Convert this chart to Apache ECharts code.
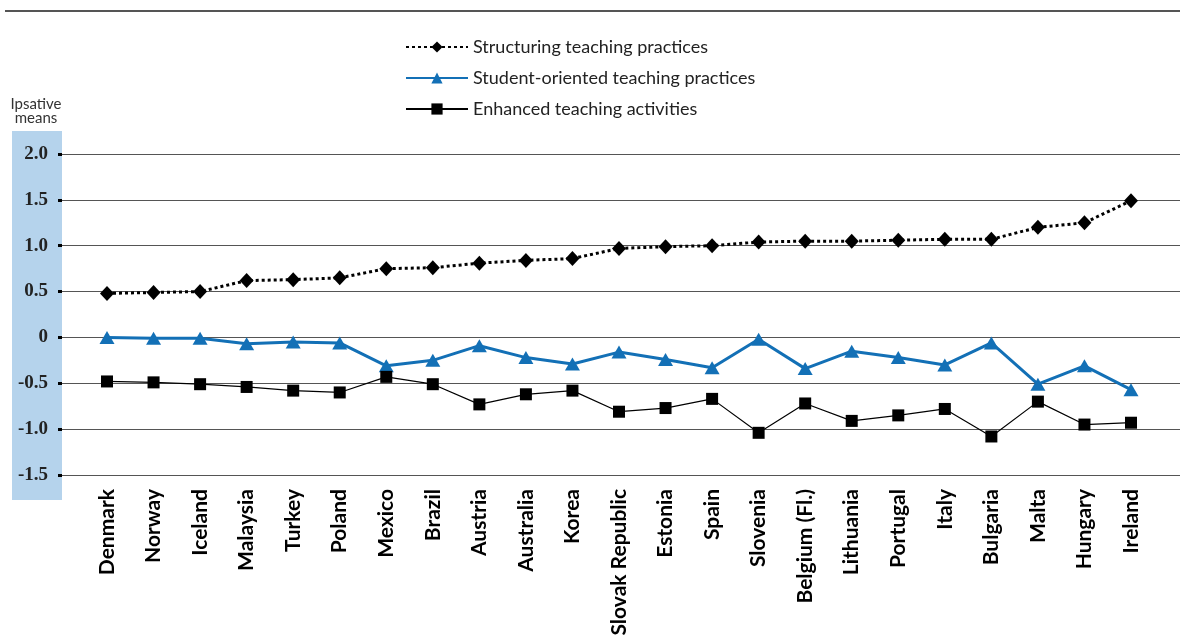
<!DOCTYPE html>
<html><head><meta charset="utf-8">
<script src="https://cdn.jsdelivr.net/npm/echarts@6/dist/echarts.min.js"></script>
<style>html,body{margin:0;padding:0;background:#fff}#c{width:1180px;height:640px}</style>
</head><body><div id="c"></div>
<script>
const countries = ["Denmark","Norway","Iceland","Malaysia","Turkey","Poland","Mexico","Brazil","Austria","Australia","Korea","Slovak Republic","Estonia","Spain","Slovenia","Belgium (Fl.)","Lithuania","Portugal","Italy","Bulgaria","Malta","Hungary","Ireland"];
const structuring = [0.48,0.49,0.50,0.62,0.63,0.65,0.75,0.76,0.81,0.84,0.86,0.97,0.99,1.00,1.04,1.05,1.05,1.06,1.07,1.07,1.20,1.25,1.49];
const studentOriented = [0.00,-0.01,-0.01,-0.07,-0.05,-0.06,-0.31,-0.25,-0.09,-0.22,-0.29,-0.16,-0.24,-0.33,-0.02,-0.34,-0.15,-0.22,-0.30,-0.06,-0.51,-0.31,-0.57];
const enhanced = [-0.48,-0.49,-0.51,-0.54,-0.58,-0.60,-0.43,-0.51,-0.73,-0.62,-0.58,-0.81,-0.77,-0.67,-1.04,-0.72,-0.91,-0.85,-0.78,-1.08,-0.70,-0.95,-0.93];
const seriesNames = ["Structuring teaching practices","Student-oriented teaching practices","Enhanced teaching activities"];
const yMin = -1.5, yMax = 2.0, yStep = 0.5;

const chart = echarts.init(document.getElementById('c'), null, {renderer:'canvas'});
const TOP = 154, BOTTOM = 640-475;
chart.setOption({
  animation:false,
  backgroundColor:'#fff',
  graphic:[
    {type:'rect', left:12, top:131, shape:{width:50, height:369}, style:{fill:'#b5d3ec'}, z:-10},
    {type:'line', shape:{x1:5,y1:11,x2:1180,y2:11}, style:{stroke:'#555', lineWidth:2}},
    {type:'text', x:36, y:97, style:{text:'Ipsative\nmeans', font:'15px Lato', fill:'#333', lineHeight:14, align:'center'}}
  ],
  legend:{
    left:400, top:33, orient:'vertical', itemWidth:62, itemHeight:14, itemGap:13,
    itemStyle:{borderWidth:0},
    textStyle:{fontFamily:'Lato', fontSize:18, color:'#222'},
    data:seriesNames
  },
  grid:[
    {left:62, right:0, top:TOP, bottom:BOTTOM},
    {left:107, right:49, top:TOP, bottom:BOTTOM}
  ],
  xAxis:[
    {gridIndex:0, type:'category', data:countries, show:false},
    {gridIndex:1, type:'category', data:countries, boundaryGap:false,
     axisLine:{show:false}, axisTick:{show:false},
     axisLabel:{rotate:90, interval:0, margin:14, fontFamily:'Lato', fontWeight:'bold', fontSize:21, color:'#000'}}
  ],
  yAxis:[
    {gridIndex:0, type:'value', min:yMin, max:yMax, interval:yStep,
     axisLine:{show:false},
     axisTick:{show:true, length:4, lineStyle:{color:'#000', width:3}},
     axisLabel:{margin:14, fontFamily:'serif', fontWeight:'bold', fontSize:19, color:'#222',
       formatter:v => v===0 ? '0' : v.toFixed(1)},
     splitLine:{lineStyle:{color:'#555', width:1.2}}},
    {gridIndex:1, type:'value', min:yMin, max:yMax, interval:yStep, show:false, splitLine:{show:false}}
  ],
  series:[
    {name:seriesNames[0], type:'line', xAxisIndex:1, yAxisIndex:1, data:structuring,
     symbol:'diamond', symbolSize:[14,15], itemStyle:{color:'#000'},
     lineStyle:{color:'#000', width:3, type:[3,3]}},
    {name:seriesNames[1], type:'line', xAxisIndex:1, yAxisIndex:1, data:studentOriented,
     symbol:'triangle', symbolSize:[15,13], itemStyle:{color:'#1370b6'},
     lineStyle:{color:'#1370b6', width:3}},
    {name:seriesNames[2], type:'line', xAxisIndex:1, yAxisIndex:1, data:enhanced,
     symbol:'rect', symbolSize:12, itemStyle:{color:'#000'},
     lineStyle:{color:'#000', width:1.2}}
  ]
});
</script></body></html>
